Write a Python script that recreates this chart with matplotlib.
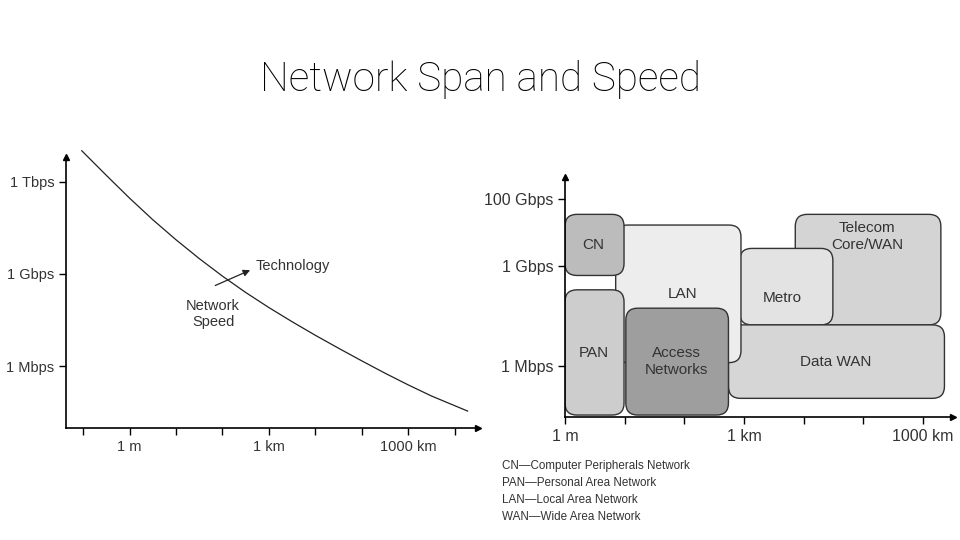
import numpy as np
import matplotlib.pyplot as plt
from matplotlib.patches import FancyBboxPatch

plt.rcParams['font.family'] = ['Liberation Sans', 'DejaVu Sans']
txt = '#333333'

# left chart: log10(span in m) vs log10(speed in bps)
span_log = [-1.03, -0.5, 0, 0.5, 1, 1.5, 2, 2.5, 3, 3.5, 4, 4.5, 5, 5.5, 6, 6.5, 7.28]
speed_log = [13.0, 12.2, 11.46, 10.76, 10.11, 9.5, 8.93, 8.4, 7.91, 7.45, 7.01,
             6.59, 6.18, 5.78, 5.4, 5.04, 4.55]
left_yticks = [6, 9, 12]
left_ylabels = ['1 Mbps', '1 Gbps', '1 Tbps']
left_xticks = [-1, 0, 1, 2, 3, 4, 5, 6, 7]
left_xlabels = ['', '1 m', '', '', '1 km', '', '', '1000 km', '']

# right chart: network types as boxes (x0, x1, y0, y1) in log10 units
net_names = ['Telecom\nCore/WAN', 'Metro', 'Data WAN', 'LAN', 'CN', 'PAN', 'Access\nNetworks']
net_x0 = [3.86, 2.93, 2.74, 0.85, 0.0, 0.0, 1.02]
net_x1 = [6.30, 4.49, 6.36, 2.95, 0.99, 0.99, 2.74]
net_y0 = [7.23, 7.23, 5.03, 6.10, 8.71, 4.53, 4.53]
net_y1 = [10.54, 9.52, 7.23, 10.22, 10.54, 8.28, 7.73]
net_lx = [5.06, 3.64, 4.53, 1.97, 0.48, 0.48, 1.87]
net_ly = [9.87, 8.03, 6.13, 8.16, 9.62, 6.40, 6.13]
net_colors = ['#d4d4d4', '#e3e3e3', '#d6d6d6', '#ededed', '#bcbcbc', '#cdcdcd', '#9e9e9e']
right_yticks = [6, 9, 11]
right_ylabels = ['1 Mbps', '1 Gbps', '100 Gbps']
right_xticks = [0, 1, 2, 3, 4, 5, 6]
right_xlabels = ['1 m', '', '', '1 km', '', '', '1000 km']

legend_lines = ['CN\u2014Computer Peripherals Network',
                'PAN\u2014Personal Area Network',
                'LAN\u2014Local Area Network',
                'WAN\u2014Wide Area Network']

fig = plt.figure(figsize=(9.6, 5.4), dpi=100)
fig.text(0.5, 0.852, 'Network Span and Speed', ha='center', va='center',
         fontsize=29.2, color='#000000', family=['Roboto', 'DejaVu Sans'], fontweight='light')


def style_axes(ax, size):
    ax.spines['top'].set_visible(False)
    ax.spines['right'].set_visible(False)
    ax.spines['left'].set_linewidth(1.2)
    ax.spines['bottom'].set_linewidth(1.2)
    ax.plot(1, 0, '>k', ms=5, transform=ax.transAxes, clip_on=False)
    ax.plot(0, 1, '^k', ms=5, transform=ax.transAxes, clip_on=False)
    ax.tick_params(colors='black', labelcolor=txt, labelsize=size, length=5, width=1)


# left
ax1 = fig.add_axes([0.06875, 0.2074, 0.429, 0.502])
ax1.plot(span_log, speed_log, color='#222222', lw=0.9, clip_on=False)
ax1.set_xlim(-1.37, 7.5)
ax1.set_ylim(4, 12.8)
ax1.set_yticks(left_yticks, left_ylabels)
ax1.set_xticks(left_xticks, left_xlabels)
style_axes(ax1, 10.5)
ax1.annotate('', xy=(2.65, 9.16), xytext=(1.79, 8.59),
             arrowprops=dict(arrowstyle='-|>', color='#222222', lw=0.9, mutation_scale=10))
ax1.text(2.72, 9.26, 'Technology', ha='left', va='center', fontsize=10.5, color=txt)
ax1.text(1.8, 7.7, 'Network\nSpeed', ha='center', va='center', fontsize=10.5, color=txt,
         linespacing=1.25)

# right
ax2 = fig.add_axes([0.5885, 0.2283, 0.404, 0.444])
ax2.set_xlim(0, 6.5)
ax2.set_ylim(4.48, 11.66)
xs = 388 / 6.5
ys = 239.7 / 7.18
for name, x0, x1, y0, y1, lx, ly, c in zip(net_names, net_x0, net_x1, net_y0, net_y1,
                                            net_lx, net_ly, net_colors):
    p = FancyBboxPatch((x0, y0), x1 - x0, y1 - y0,
                       boxstyle='round,pad=0,rounding_size=0.2',
                       mutation_aspect=xs / ys, fc=c, ec='#333333', lw=1.0)
    ax2.add_patch(p)
    ax2.text(lx, ly, name, ha='center', va='center', fontsize=11, color=txt,
             linespacing=1.3)
ax2.set_yticks(right_yticks, right_ylabels)
ax2.set_xticks(right_xticks, right_xlabels)
style_axes(ax2, 11.5)

for i, line in enumerate(legend_lines):
    fig.text(0.523, 1 - (466 + 17 * i) / 540, line, ha='left', va='center',
             fontsize=8.4, color=txt)

fig.savefig('out.png', dpi=100)
